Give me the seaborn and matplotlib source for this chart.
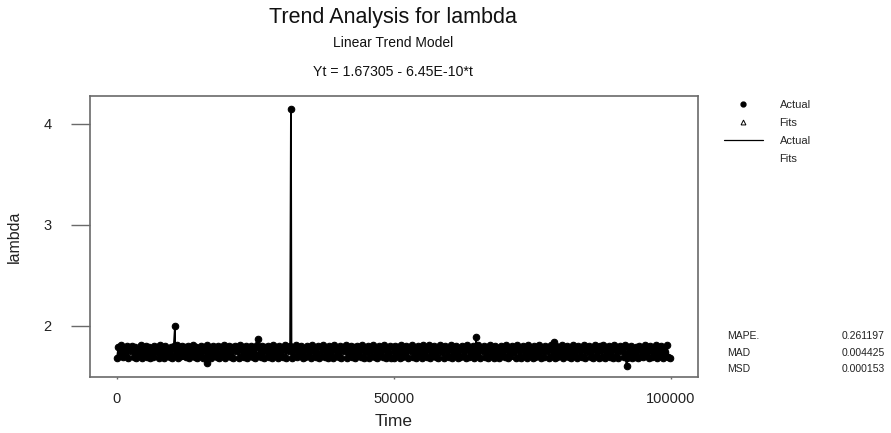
import numpy as np
import pandas as pd
import matplotlib
matplotlib.use("Agg")
import matplotlib.pyplot as plt
from matplotlib.lines import Line2D
import seaborn as sns

# ---------------- data ----------------
title = "Trend Analysis for lambda"
subtitle = "Linear Trend Model"
equation = "Yt = 1.67305 - 6.45E-10*t"
intercept = 1.67305
slope = -6.45e-10

# sampled Actual values in the dense band (one sample every 250 time units)
band_values = [
    1.68, 1.79, 1.70, 1.81, 1.69, 1.77, 1.72, 1.80, 1.68, 1.78, 1.75, 1.80, 1.69, 1.79, 1.68, 1.76, 1.70, 1.81, 1.68, 1.78, 1.73, 1.80, 1.69, 1.79, 1.68,
    1.77, 1.69, 1.80, 1.74, 1.79, 1.68, 1.81, 1.70, 1.78, 1.68, 1.80, 1.72, 1.76, 1.69, 1.79, 1.68, 1.80, 1.71, 1.81, 1.68, 1.77, 1.70, 1.80, 1.75, 1.79,
    1.69, 1.80, 1.68, 1.78, 1.73, 1.81, 1.69, 1.79, 1.68, 1.77, 1.70, 1.80, 1.68, 1.79, 1.74, 1.81, 1.69, 1.78, 1.68, 1.80, 1.71, 1.76, 1.69, 1.80, 1.68,
    1.79, 1.70, 1.81, 1.68, 1.78, 1.72, 1.80, 1.69, 1.79, 1.68, 1.80, 1.75, 1.77, 1.68, 1.81, 1.70, 1.79, 1.69, 1.80, 1.68, 1.78, 1.73, 1.80, 1.69, 1.79,
    1.68, 1.81, 1.71, 1.78, 1.69, 1.80, 1.68, 1.79, 1.74, 1.80, 1.69, 1.77, 1.68, 1.81, 1.72, 1.79, 1.68, 1.80, 1.70, 1.78, 1.69, 1.81, 1.68, 1.79, 1.75,
    1.80, 1.68, 1.78, 1.70, 1.81, 1.69, 1.79, 1.73, 1.80, 1.68, 1.77, 1.69, 1.80, 1.71, 1.79, 1.68, 1.81, 1.74, 1.78, 1.69, 1.80, 1.68, 1.79, 1.70, 1.81,
    1.69, 1.78, 1.68, 1.80, 1.72, 1.79, 1.68, 1.81, 1.70, 1.77, 1.69, 1.80, 1.68, 1.79, 1.75, 1.81, 1.68, 1.78, 1.71, 1.80, 1.69, 1.79, 1.68, 1.80, 1.73,
    1.79, 1.69, 1.81, 1.68, 1.78, 1.74, 1.80, 1.68, 1.79, 1.70, 1.81, 1.69, 1.77, 1.68, 1.80, 1.72, 1.79, 1.69, 1.81, 1.68, 1.78, 1.70, 1.80, 1.68, 1.79,
    1.68, 1.80, 1.73, 1.79, 1.68, 1.81, 1.69, 1.78, 1.70, 1.80, 1.68, 1.79, 1.75, 1.81, 1.69, 1.77, 1.68, 1.80, 1.71, 1.79, 1.68, 1.81, 1.70, 1.78, 1.69,
    1.81, 1.68, 1.79, 1.71, 1.80, 1.69, 1.78, 1.68, 1.81, 1.74, 1.79, 1.68, 1.80, 1.70, 1.77, 1.69, 1.81, 1.68, 1.79, 1.72, 1.80, 1.68, 1.78, 1.69, 1.80,
    1.70, 1.79, 1.68, 1.81, 1.69, 1.78, 1.73, 1.80, 1.68, 1.79, 1.70, 1.81, 1.68, 1.77, 1.75, 1.80, 1.69, 1.79, 1.68, 1.81, 1.71, 1.78, 1.68, 1.80, 1.69,
    1.78, 1.68, 1.80, 1.72, 1.79, 1.69, 1.81, 1.68, 1.78, 1.70, 1.80, 1.74, 1.79, 1.68, 1.81, 1.69, 1.77, 1.68, 1.80, 1.70, 1.79, 1.68, 1.81, 1.73, 1.78,
    1.68, 1.80, 1.69, 1.79, 1.71, 1.81, 1.68, 1.78, 1.69, 1.80, 1.75, 1.79, 1.68, 1.81, 1.70, 1.77, 1.68, 1.80, 1.69, 1.79, 1.72, 1.81, 1.68, 1.78, 1.70,
    1.80, 1.69, 1.78, 1.68, 1.81, 1.73, 1.79, 1.68, 1.80, 1.70, 1.78, 1.69, 1.81, 1.68, 1.79, 1.74, 1.80, 1.69, 1.77, 1.68, 1.81, 1.70, 1.79, 1.68, 1.80,
    1.69, 1.81, 1.68, 1.79, 1.72, 1.80, 1.69, 1.78, 1.68, 1.81, 1.70, 1.79, 1.68, 1.80, 1.75, 1.78, 1.69, 1.81, 1.68, 1.79, 1.71, 1.80, 1.68, 1.77, 1.69,
    1.79, 1.68, 1.80, 1.70, 1.78, 1.69, 1.81, 1.73, 1.79, 1.68, 1.80, 1.69, 1.78, 1.71, 1.81, 1.68, 1.79, 1.70, 1.80, 1.68, 1.78, 1.74, 1.81, 1.69, 1.68,
]
band_step = 250

# isolated excursions of Actual
spike_time = [10470, 16250, 25450, 31400, 64800, 78900, 92000]
spike_value = [2.00, 1.63, 1.87, 4.15, 1.89, 1.84, 1.60]

stat_names = ["MAPE.", "MAD", "MSD"]
stat_values = ["0.261197", "0.004425", "0.000153"]

x_ticks = [0, 50000, 100000]
y_ticks = [2, 3, 4]

# ---------------- build table ----------------
band_time = [i * band_step for i in range(len(band_values))]
df = pd.DataFrame({"Time": band_time + spike_time,
                   "lambda": band_values + spike_value})
df = df.sort_values("Time").reset_index(drop=True)
df["Fits"] = intercept + slope * df["Time"]

# ---------------- plot ----------------
sns.set_theme(style="white")
plt.rcParams["font.family"] = ["Liberation Sans", "DejaVu Sans"]

fig = plt.figure(figsize=(8.91, 4.33), dpi=100)
ax = fig.add_axes([90 / 891, 1 - 377 / 433, (698 - 90) / 891, (377 - 96) / 433])

sns.lineplot(data=df, x="Time", y="lambda", ax=ax, color="black",
             linewidth=1.3, marker="o", markersize=4.7,
             markeredgecolor="black", markerfacecolor="black", sort=True,
             estimator=None)
sns.lineplot(data=df, x="Time", y="Fits", ax=ax, color="black",
             linewidth=1.2, estimator=None)

ax.set_xlim(-4870, 104870)
ax.set_ylim(1.495, 4.277)
ax.set_xticks(x_ticks)
ax.set_xticklabels([str(v) for v in x_ticks])
ax.set_yticks(y_ticks)
ax.set_yticklabels([str(v) for v in y_ticks])

spine_color = "#6a6a6a"
for s in ax.spines.values():
    s.set_color(spine_color)
    s.set_linewidth(1.2)
ax.tick_params(axis="y", direction="out", length=13.5, width=1.0,
               color=spine_color, labelsize=10.5, labelcolor="#222222", pad=14,
               left=True)
ax.tick_params(axis="x", direction="out", length=1.5, width=1.0,
               color=spine_color, labelsize=10.5, labelcolor="#222222", pad=9,
               bottom=True)
ax.set_xlabel("Time", fontsize=12.5, color="#222222", labelpad=6)
ax.set_ylabel("lambda", fontsize=11.5, color="#222222", labelpad=16)
ax.grid(False)

# titles
fig.text(393 / 891, 1 - 18 / 433, title, ha="center", va="center",
         fontsize=15.5, color="#111111")
fig.text(393 / 891, 1 - 43 / 433, subtitle, ha="center", va="center",
         fontsize=10, color="#111111")
fig.text(393 / 891, 1 - 72 / 433, equation, ha="center", va="center",
         fontsize=10.2, color="#111111")

# legend
handles = [
    Line2D([], [], linestyle="none", marker="o", markersize=3.5,
           color="black"),
    Line2D([], [], linestyle="none", marker="^", markersize=3.5,
           markerfacecolor="white", markeredgecolor="black",
           markeredgewidth=0.7),
    Line2D([], [], color="black", linewidth=0.9),
    Line2D([], [], linestyle="none"),
]
labels = ["Actual", "Fits", "Actual", "Fits"]
fig.legend(handles, labels, loc="upper left",
           bbox_to_anchor=(724 / 891, 1 - 100 / 433), frameon=False,
           fontsize=8, handlelength=3.5, handletextpad=1.5,
           labelspacing=0.72, borderaxespad=0, borderpad=0)

# statistics
for i, (n, v) in enumerate(zip(stat_names, stat_values)):
    y = 1 - (336 + 16.5 * i) / 433
    fig.text(727 / 891, y, n, ha="left", va="center", fontsize=7.5,
             color="#222222")
    fig.text(885 / 891, y, v, ha="right", va="center", fontsize=7.5,
             color="#222222")

fig.savefig("out.png", dpi=100)
